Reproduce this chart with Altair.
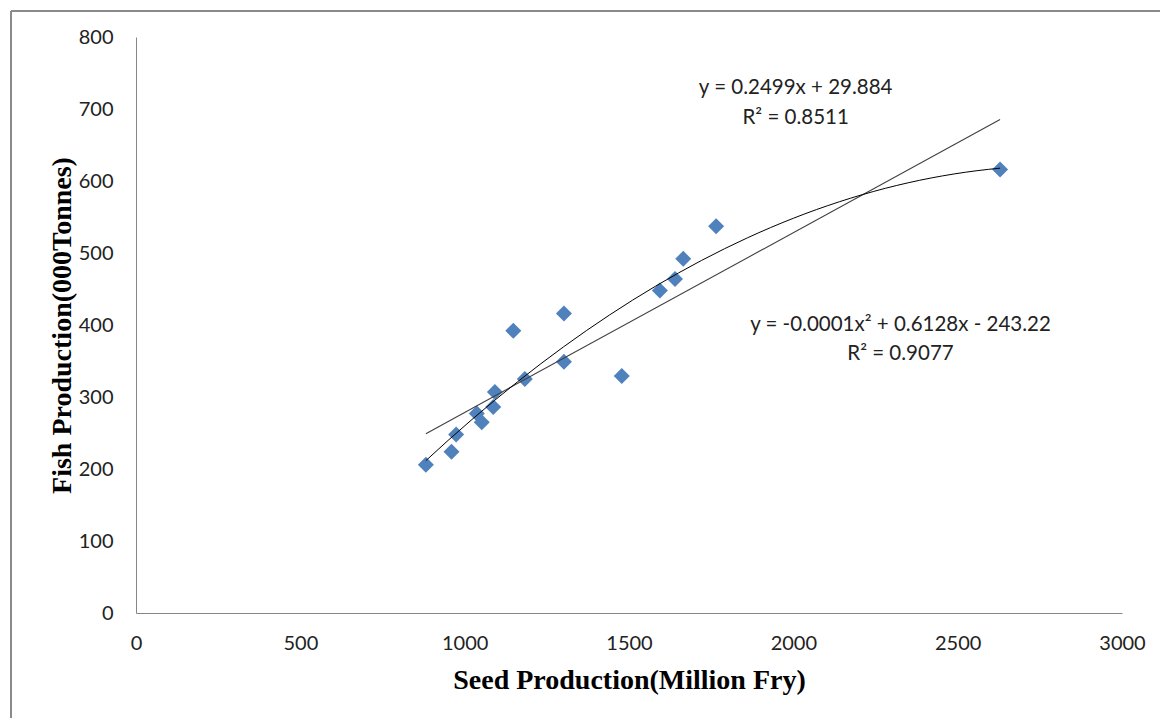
import altair as alt
import pandas as pd

# Data
seed = [882, 960, 974, 1037, 1052, 1087, 1092, 1183, 1148, 1302, 1302, 1478, 1594, 1640, 1665, 1765, 2629]
fish = [206, 224, 248, 277, 265, 286, 307, 325, 392, 416, 349, 329, 448, 464, 492, 537, 616]

x_ticks = [0, 500, 1000, 1500, 2000, 2500, 3000]
y_ticks = [0, 100, 200, 300, 400, 500, 600, 700, 800]

ann_x = [2007, 2007, 2326, 2326]
ann_y = [729, 688, 400, 360]
ann_text = ["y = 0.2499x + 29.884", "R² = 0.8511",
            "y = -0.0001x² + 0.6128x - 243.22", "R² = 0.9077"]

df = pd.DataFrame({"seed": seed, "fish": fish})
ann = pd.DataFrame({"x": ann_x, "y": ann_y, "label": ann_text})
one = pd.DataFrame({"a": [0]})

LABEL_FONT = "Lato"

xs = alt.Scale(domain=[0, 3000], nice=False, zero=True)
ys = alt.Scale(domain=[0, 800], nice=False, zero=True)

xenc = alt.X("seed:Q", scale=xs, title="Seed Production(Million Fry)",
             axis=alt.Axis(values=x_ticks, format="d", labelPadding=30,
                           labelBaseline="middle", labelFlush=False, titleY=75,
                           titleBaseline="alphabetic"))
yenc = alt.Y("fish:Q", scale=ys, title="Fish Production(000Tonnes)",
             axis=alt.Axis(values=y_ticks, format="d", labelPadding=23,
                           titleX=-74, titleY=288, titleAngle=-90,
                           titleAlign="center", titleBaseline="middle"))

points = alt.Chart(df).mark_point(shape="diamond", filled=True, size=256,
                                  color="#4F81BD", opacity=1).encode(x=xenc, y=yenc)

lin = alt.Chart(df).transform_regression("seed", "fish").mark_line(
    color="#404040", strokeWidth=1.1).encode(x=alt.X("seed:Q", scale=xs), y=alt.Y("fish:Q", scale=ys))

poly = alt.Chart(df).transform_regression("seed", "fish", method="poly", order=2).mark_line(
    color="#000000", strokeWidth=1).encode(x=alt.X("seed:Q", scale=xs), y=alt.Y("fish:Q", scale=ys))

texts = alt.Chart(ann).mark_text(font=LABEL_FONT, fontSize=20.5, color="#222222",
                                 align="center", baseline="middle").encode(
    x=alt.X("x:Q", scale=xs), y=alt.Y("y:Q", scale=ys), text="label:N")

border_top = alt.Chart(one).mark_rule(color="#8a8a8a", strokeWidth=2).encode(
    x=alt.value(-125), x2=alt.value(1100), y=alt.value(-26))
border_left = alt.Chart(one).mark_rule(color="#8a8a8a", strokeWidth=2).encode(
    x=alt.value(-125), y=alt.value(-26), y2=alt.value(700))

chart = alt.layer(points, lin, poly, texts, border_top, border_left).properties(
    width=986, height=576,
    autosize=alt.AutoSizeParams(type="none"),
    padding={"left": 136, "top": 37, "right": 38, "bottom": 105},
    background="white",
).configure_view(stroke=None).configure_axis(
    grid=False, ticks=False, domainColor="#868686", domainWidth=1,
    labelFont=LABEL_FONT, labelFontSize=20, labelColor="#222222",
    titleFont="Liberation Serif", titleFontSize=28, titleFontWeight="bold",
    titleColor="#000000",
)

chart.save("out.html", embed_options={"renderer": "svg", "actions": False})
